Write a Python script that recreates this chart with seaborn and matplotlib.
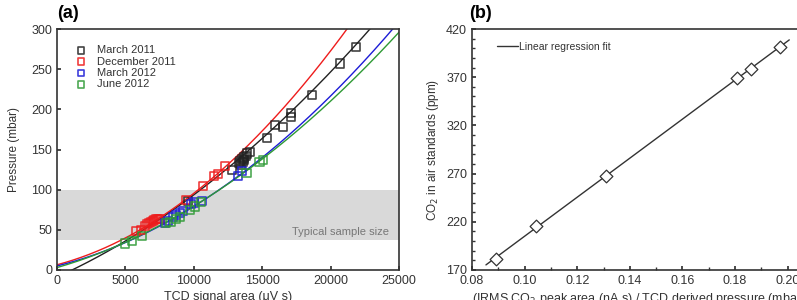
"""Recreate the TCD pressure calibration / CO2 linearity figure."""
import numpy as np
import pandas as pd
import matplotlib
matplotlib.use("Agg")
import matplotlib.pyplot as plt
import seaborn as sns
from matplotlib.ticker import MultipleLocator, FormatStrFormatter

# ---- panel (a): TCD signal area vs pressure ----
series_names = ["March 2011", "December 2011", "March 2012", "June 2012"]
series_colors = ["#222222", "#ee1c1c", "#1c1cd6", "#2e9a35"]

mar11_area = [9600, 12800, 13300, 13400, 13450, 13500, 13600, 13650, 13700, 13800,
              13900, 14100, 15330, 15950, 16500, 17080, 17080, 18620, 20690, 21860]
mar11_pres = [86, 124, 133, 136, 131, 138, 135, 137, 140, 142,
              145, 147, 164, 180, 178, 190, 195, 218, 257, 278]

dec11_area = [5750, 6150, 6450, 6600, 6750, 6900, 7000, 7100, 7250, 7400, 7550,
              9450, 10700, 11500, 11800, 12300]
dec11_pres = [48, 50, 55, 57, 58, 60, 61, 62, 63, 64, 64,
              87, 105, 117, 120, 129]

mar12_area = [7900, 8100, 8500, 8700, 9000, 9200, 9800, 10000, 10600, 13250, 13550]
mar12_pres = [59, 61, 66, 68, 71, 73, 82, 84, 86, 117, 123]

jun12_area = [5000, 5450, 6200, 8000, 8300, 8700, 9000, 9700, 10100, 10550,
              13850, 14800, 15050]
jun12_pres = [33, 36, 42, 58, 60, 64, 66, 75, 79, 85, 121, 135, 137]

# quadratic fit coefficients (c2, c1, c0) with area in units of 1000 uV s
fit_coefs = [
    [0.2532, 7.703, -8.78],
    [0.4420, 4.475, 6.5],
    [0.3168, 4.246, 5.0],
    [0.2714, 4.935, 3.0],
]

sample_band = (37, 99)

# ---- panel (b): CO2 linearity ----
ratio = [0.0891, 0.1043, 0.1308, 0.1809, 0.1861, 0.1969]
co2_ppm = [181, 216, 267.5, 369, 379, 401]
fit_range = (0.0853, 0.2006)
co2_ticks = [170, 220, 270, 320, 370, 420]


def setup_style():
    sns.set_theme(style="ticks")
    plt.rcParams.update({
        "font.family": ["Liberation Sans", "DejaVu Sans"],
        "text.color": "#333333",
        "axes.labelcolor": "#333333",
        "xtick.color": "#333333",
        "ytick.color": "#333333",
        "xtick.direction": "in",
        "ytick.direction": "in",
        "axes.edgecolor": "#333333",
        "axes.linewidth": 1.2,
    })


def plot_pressure_panel(ax):
    ax.axhspan(*sample_band, color="#d9d9d9", lw=0, zorder=0)
    ax.text(24300, 47, "Typical sample size", ha="right", va="center",
            color="#777777", fontsize=8)

    area_grid = np.linspace(0, 25000, 300)
    datasets = [
        (mar11_area, mar11_pres),
        (dec11_area, dec11_pres),
        (mar12_area, mar12_pres),
        (jun12_area, jun12_pres),
    ]
    for name, color, coefs, (xs, ys) in zip(series_names, series_colors, fit_coefs, datasets):
        curve = pd.DataFrame({"area": area_grid,
                              "pres": np.polyval(coefs, area_grid / 1000)})
        sns.lineplot(data=curve, x="area", y="pres", color=color, lw=1.0, ax=ax)
        sns.scatterplot(x=xs, y=ys, marker="s", s=34, facecolor="none",
                        edgecolor=color, linewidth=1.2, alpha=0.85,
                        label=name, ax=ax, zorder=3)

    ax.set_xlim(0, 25000)
    ax.set_ylim(0, 300)
    ax.xaxis.set_major_locator(MultipleLocator(5000))
    ax.yaxis.set_major_locator(MultipleLocator(50))
    ax.set_xlabel("TCD signal area (μV s)", fontsize=9, labelpad=3)
    ax.set_ylabel("Pressure (mbar)", fontsize=8.5, labelpad=8)
    ax.tick_params(labelsize=9, length=3)
    ax.legend(loc="upper left", bbox_to_anchor=(0.015, 0.965), frameon=False,
              fontsize=8, handletextpad=0.4, labelspacing=0.12,
              borderaxespad=0.3, markerscale=0.85)


def plot_co2_panel(ax):
    xs = np.array(ratio)
    slope, intercept = np.polyfit(xs, co2_ppm, 1)
    line_x = np.array(fit_range)
    fit_df = pd.DataFrame({"ratio": line_x, "co2": slope * line_x + intercept})
    sns.lineplot(data=fit_df, x="ratio", y="co2", color="#333333", lw=1.0,
                 label="Linear regression fit", ax=ax)
    sns.scatterplot(x=ratio, y=co2_ppm, marker="D", s=42, facecolor="white",
                    edgecolor="#333333", linewidth=0.9, ax=ax, zorder=3)

    ax.set_xlim(0.08, 0.21)
    ax.set_ylim(170, 420)
    ax.xaxis.set_major_locator(MultipleLocator(0.02))
    ax.xaxis.set_minor_locator(MultipleLocator(0.01))
    ax.xaxis.set_major_formatter(FormatStrFormatter("%.2f"))
    ax.set_yticks(co2_ticks)
    ax.yaxis.set_minor_locator(MultipleLocator(10))
    ax.set_xlabel("(IRMS CO$_2$ peak area (nA s) / TCD derived pressure (mbar))",
                  fontsize=9, labelpad=3, loc="left")
    ax.set_ylabel("CO$_2$ in air standards (ppm)", fontsize=8.5, labelpad=4)
    ax.tick_params(labelsize=9, length=3)
    ax.tick_params(which="minor", length=2, direction="in")
    ax.legend(loc="upper left", bbox_to_anchor=(0.045, 0.985), frameon=False,
              fontsize=7.5, handlelength=2.0, handletextpad=0.1)


def main():
    setup_style()
    fig = plt.figure(figsize=(7.97, 3.0), dpi=100)
    ax_a = fig.add_axes([57 / 797, 0.1, 342 / 797, 241 / 300])
    ax_b = fig.add_axes([472 / 797, 0.1, 342 / 797, 241 / 300])

    plot_pressure_panel(ax_a)
    plot_co2_panel(ax_b)

    fig.text(57 / 797, 1 - 14 / 300, "(a)", fontsize=13, weight="bold",
             va="center", color="black")
    fig.text(469 / 797, 1 - 14 / 300, "(b)", fontsize=13, weight="bold",
             va="center", color="black")

    fig.savefig("out.png", dpi=100)
    plt.close(fig)


if __name__ == "__main__":
    main()
